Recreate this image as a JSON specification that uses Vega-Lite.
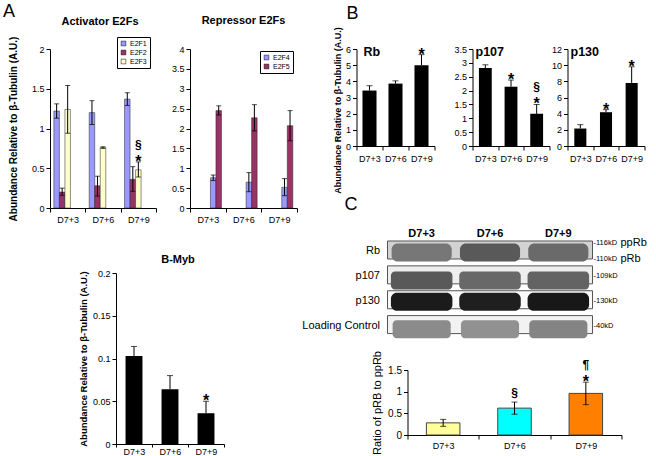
{
  "$schema": "https://vega.github.io/schema/vega-lite/v6.json",
  "padding": {"left": 3, "top": 3, "right": 0, "bottom": 0},
  "background": "white",
  "config": {
    "view": {"stroke": null},
    "font": "Liberation Sans",
    "axis": {"labelFont": "Liberation Sans", "labelFontSize": 9, "labelColor": "#000", "domainColor": "#000", "tickColor": "#000", "tickSize": 4, "grid": false, "titleFont": "Liberation Sans", "titleColor": "#000", "titleFontSize": 10, "titleFontWeight": "bold", "labelPadding": 2, "labelOverlap": false},
    "axisY": {"tickCount": 20},
    "title": {"font": "Liberation Sans", "fontSize": 11, "fontWeight": "bold", "color": "#000"},
    "text": {"font": "Liberation Sans", "color": "#000"}
  },
  "datasets": {
    "act": [
      {"day": "D7+3", "gene": "E2F1", "value": 1.22, "lo": 1.13, "hi": 1.31},
      {"day": "D7+3", "gene": "E2F2", "value": 0.2, "lo": 0.16, "hi": 0.25},
      {"day": "D7+3", "gene": "E2F3", "value": 1.24, "lo": 0.94, "hi": 1.54},
      {"day": "D7+6", "gene": "E2F1", "value": 1.2, "lo": 1.05, "hi": 1.35},
      {"day": "D7+6", "gene": "E2F2", "value": 0.28, "lo": 0.15, "hi": 0.4},
      {"day": "D7+6", "gene": "E2F3", "value": 0.76, "lo": 0.75, "hi": 0.77},
      {"day": "D7+9", "gene": "E2F1", "value": 1.37, "lo": 1.29, "hi": 1.45},
      {"day": "D7+9", "gene": "E2F2", "value": 0.36, "lo": 0.21, "hi": 0.52},
      {"day": "D7+9", "gene": "E2F3", "value": 0.48, "lo": 0.39, "hi": 0.58, "star": "*", "sym1": "§"}
    ],
    "rep": [
      {"day": "D7+3", "gene": "E2F4", "value": 0.76, "lo": 0.69, "hi": 0.83},
      {"day": "D7+3", "gene": "E2F5", "value": 2.45, "lo": 2.34, "hi": 2.57},
      {"day": "D7+6", "gene": "E2F4", "value": 0.65, "lo": 0.41, "hi": 0.89},
      {"day": "D7+6", "gene": "E2F5", "value": 2.27, "lo": 1.94, "hi": 2.6},
      {"day": "D7+9", "gene": "E2F4", "value": 0.52, "lo": 0.31, "hi": 0.74},
      {"day": "D7+9", "gene": "E2F5", "value": 2.07, "lo": 1.69, "hi": 2.45}
    ],
    "bmyb": [
      {"day": "D7+3", "value": 0.103, "hi": 0.114},
      {"day": "D7+6", "value": 0.064, "hi": 0.08},
      {"day": "D7+9", "value": 0.036, "hi": 0.05, "star": "*"}
    ],
    "rb": [
      {"day": "D7+3", "value": 3.43, "hi": 3.73},
      {"day": "D7+6", "value": 3.86, "hi": 4.03},
      {"day": "D7+9", "value": 5.0, "hi": 5.65, "star": "*"}
    ],
    "p107": [
      {"day": "D7+3", "value": 2.81, "hi": 2.93},
      {"day": "D7+6", "value": 2.14, "hi": 2.38, "star": "*"},
      {"day": "D7+9", "value": 1.16, "hi": 1.5, "star": "*", "sym1": "§"}
    ],
    "p130": [
      {"day": "D7+3", "value": 2.16, "hi": 2.64},
      {"day": "D7+6", "value": 4.18, "hi": 4.5, "star": "*"},
      {"day": "D7+9", "value": 7.8, "hi": 9.8, "star": "*"}
    ],
    "ratio": [
      {"day": "D7+3", "value": 0.28, "lo": 0.2, "hi": 0.36},
      {"day": "D7+6", "value": 0.62, "lo": 0.48, "hi": 0.76, "sym0": "§"},
      {"day": "D7+9", "value": 0.96, "lo": 0.7, "hi": 1.22, "star": "*", "sym1": "¶"}
    ],
    "blotBox": [
      {"protein": "Rb"}, {"protein": "p107"}, {"protein": "p130"}, {"protein": "Loading Control"}
    ],
    "blot": [
      {"protein": "Rb", "lane": "D7+3", "intensity": 0.5},
      {"protein": "Rb", "lane": "D7+6", "intensity": 0.62},
      {"protein": "Rb", "lane": "D7+9", "intensity": 0.55},
      {"protein": "p107", "lane": "D7+3", "intensity": 0.62},
      {"protein": "p107", "lane": "D7+6", "intensity": 0.56},
      {"protein": "p107", "lane": "D7+9", "intensity": 0.58},
      {"protein": "p130", "lane": "D7+3", "intensity": 0.9},
      {"protein": "p130", "lane": "D7+6", "intensity": 0.88},
      {"protein": "p130", "lane": "D7+9", "intensity": 0.92},
      {"protein": "Loading Control", "lane": "D7+3", "intensity": 0.42},
      {"protein": "Loading Control", "lane": "D7+6", "intensity": 0.4},
      {"protein": "Loading Control", "lane": "D7+9", "intensity": 0.45}
    ],
    "blotLab": [
      {"protein": "Rb", "sub": "a", "kd": "-116kD", "form": "ppRb"},
      {"protein": "Rb", "sub": "b", "kd": "-110kD", "form": "pRb"},
      {"protein": "p107", "sub": "m", "kd": "-109kD"},
      {"protein": "p130", "sub": "m", "kd": "-130kD"},
      {"protein": "Loading Control", "sub": "m", "kd": "-40kD"}
    ]
  },
  "spacing": 3.5,
  "resolve": {"scale": {"color": "independent"}},
  "hconcat": [
    {
      "title": {"text": "A", "anchor": "start", "frame": "group", "fontSize": 18, "fontWeight": "normal", "dx": -47, "offset": -6},
      "spacing": 29,
      "resolve": {"scale": {"color": "independent"}},
      "vconcat": [
        {
          "bounds": "flush",
          "spacing": 34,
          "resolve": {"scale": {"color": "independent"}},
          "hconcat": [
            {
              "width": 106, "height": 159,
              "title": {"text": "Activator E2Fs", "dx": -3, "offset": 9},
              "data": {"name": "act"},
              "layer": [
                {"mark": {"type": "bar", "stroke": "#222", "strokeWidth": 0.5},
                 "encoding": {
                   "x": {"field": "day", "type": "nominal", "scale": {"paddingInner": 0, "paddingOuter": 0}, "axis": {"title": null, "labelAngle": 0, "tickBand": "extent", "labelPadding": 3}},
                   "xOffset": {"field": "gene", "type": "nominal", "scale": {"paddingInner": 0, "paddingOuter": 0.7}},
                   "y": {"field": "value", "type": "quantitative", "scale": {"domain": [0, 2], "nice": false}, "axis": {"values": [0, 0.5, 1, 1.5, 2], "tickCount": 20, "format": ".1~f", "title": "Abundance Relative to β-Tubulin (A.U.)", "titlePadding": 13}},
                   "color": {"field": "gene", "type": "nominal", "scale": {"domain": ["E2F1", "E2F2", "E2F3"], "range": ["#9999ff", "#993366", "#ffffcc"]},
                     "legend": {"orient": "none", "legendX": 67, "legendY": -12, "title": null, "strokeColor": "#000", "fillColor": "#fff", "padding": 3, "symbolType": "square", "symbolSize": 22, "symbolStrokeColor": "#000", "symbolStrokeWidth": 0.5, "labelFontSize": 7, "labelFont": "Liberation Sans", "rowPadding": 1, "labelOffset": 3}}
                 }},
                {"mark": {"type": "rule", "color": "#000", "strokeWidth": 1},
                 "encoding": {"x": {"field": "day", "type": "nominal"}, "xOffset": {"field": "gene", "type": "nominal"}, "y": {"field": "lo", "type": "quantitative"}, "y2": {"field": "hi"}}},
                {"mark": {"type": "tick", "color": "#000", "size": 5, "thickness": 1},
                 "encoding": {"x": {"field": "day", "type": "nominal"}, "xOffset": {"field": "gene", "type": "nominal"}, "y": {"field": "lo", "type": "quantitative"}}},
                {"mark": {"type": "tick", "color": "#000", "size": 5, "thickness": 1},
                 "encoding": {"x": {"field": "day", "type": "nominal"}, "xOffset": {"field": "gene", "type": "nominal"}, "y": {"field": "hi", "type": "quantitative"}}},
                {"transform": [{"filter": "datum.star"}],
                 "mark": {"type": "text", "color": "#000", "fontSize": 16, "fontWeight": "bold", "dy": 5, "baseline": "alphabetic"},
                 "encoding": {"x": {"field": "day", "type": "nominal"}, "xOffset": {"field": "gene", "type": "nominal"}, "y": {"field": "hi", "type": "quantitative"}, "text": {"field": "star"}}},
                {"transform": [{"filter": "datum.sym1"}],
                 "mark": {"type": "text", "color": "#000", "fontSize": 12, "fontWeight": "bold", "dy": -13, "baseline": "alphabetic"},
                 "encoding": {"x": {"field": "day", "type": "nominal"}, "xOffset": {"field": "gene", "type": "nominal"}, "y": {"field": "hi", "type": "quantitative"}, "text": {"field": "sym1"}}}
              ]
            },
            {
              "width": 107, "height": 159,
              "title": {"text": "Repressor E2Fs", "offset": 19},
              "data": {"name": "rep"},
              "layer": [
                {"mark": {"type": "bar", "stroke": "#222", "strokeWidth": 0.5},
                 "encoding": {
                   "x": {"field": "day", "type": "nominal", "scale": {"paddingInner": 0, "paddingOuter": 0}, "axis": {"title": null, "labelAngle": 0, "tickBand": "extent", "labelPadding": 3}},
                   "xOffset": {"field": "gene", "type": "nominal", "scale": {"paddingInner": 0, "paddingOuter": 0.48}},
                   "y": {"field": "value", "type": "quantitative", "scale": {"domain": [0, 4], "nice": false}, "axis": {"values": [0, 0.5, 1, 1.5, 2, 2.5, 3, 3.5, 4], "tickCount": 20, "format": ".1~f", "title": null}},
                   "color": {"field": "gene", "type": "nominal", "scale": {"domain": ["E2F4", "E2F5"], "range": ["#9999ff", "#993366"]},
                     "legend": {"orient": "none", "legendX": 70, "legendY": 2, "title": null, "strokeColor": "#000", "fillColor": "#fff", "padding": 3, "symbolType": "square", "symbolSize": 22, "symbolStrokeColor": "#000", "symbolStrokeWidth": 0.5, "labelFontSize": 7, "labelFont": "Liberation Sans", "rowPadding": 1, "labelOffset": 3}}
                 }},
                {"mark": {"type": "rule", "color": "#000", "strokeWidth": 1},
                 "encoding": {"x": {"field": "day", "type": "nominal"}, "xOffset": {"field": "gene", "type": "nominal"}, "y": {"field": "lo", "type": "quantitative"}, "y2": {"field": "hi"}}},
                {"mark": {"type": "tick", "color": "#000", "size": 5, "thickness": 1},
                 "encoding": {"x": {"field": "day", "type": "nominal"}, "xOffset": {"field": "gene", "type": "nominal"}, "y": {"field": "lo", "type": "quantitative"}}},
                {"mark": {"type": "tick", "color": "#000", "size": 5, "thickness": 1},
                 "encoding": {"x": {"field": "day", "type": "nominal"}, "xOffset": {"field": "gene", "type": "nominal"}, "y": {"field": "hi", "type": "quantitative"}}}
              ]
            }
          ]
        },
        {
          "bounds": "flush",
          "spacing": 65,
          "resolve": {"scale": {"color": "independent"}},
          "hconcat": [
            {"width": 1, "height": 1, "data": {"values": [{"a": 1}]}, "mark": {"type": "point", "size": 0, "opacity": 0, "strokeWidth": 0}, "encoding": {}},
            {
              "width": 108, "height": 171,
              "title": {"text": "B-Myb", "offset": 4.5, "dx": 8},
              "data": {"name": "bmyb"},
              "layer": [
                {"mark": {"type": "bar", "color": "#000", "width": {"band": 0.47}},
                 "encoding": {
                   "x": {"field": "day", "type": "nominal", "scale": {"paddingInner": 0, "paddingOuter": 0}, "axis": {"title": null, "labelAngle": 0, "tickBand": "extent", "labelPadding": 0, "tickSize": 3}},
                   "y": {"field": "value", "type": "quantitative", "scale": {"domain": [0, 0.2], "nice": false}, "axis": {"values": [0, 0.05, 0.1, 0.15, 0.2], "tickCount": 20, "format": ".2~f", "title": "Abundance Relative to β-Tubulin (A.U.)", "titlePadding": 4, "titleFontSize": 9.5}}
                 }},
                {"mark": {"type": "rule", "color": "#000", "strokeWidth": 1},
                 "encoding": {"x": {"field": "day", "type": "nominal"}, "y": {"field": "value", "type": "quantitative"}, "y2": {"field": "hi"}}},
                {"mark": {"type": "tick", "color": "#000", "size": 6, "thickness": 1},
                 "encoding": {"x": {"field": "day", "type": "nominal"}, "y": {"field": "hi", "type": "quantitative"}}},
                {"transform": [{"filter": "datum.star"}],
                 "mark": {"type": "text", "color": "#000", "fontSize": 16, "fontWeight": "bold", "dy": 5, "baseline": "alphabetic"},
                 "encoding": {"x": {"field": "day", "type": "nominal"}, "y": {"field": "hi", "type": "quantitative"}, "text": {"field": "star"}}}
              ]
            }
          ]
        }
      ]
    },
    {
      "title": {"text": "B", "anchor": "start", "frame": "group", "fontSize": 18, "fontWeight": "normal", "dx": -10, "offset": 4},
      "spacing": 2,
      "resolve": {"scale": {"color": "independent"}},
      "vconcat": [
        {
          "bounds": "flush",
          "spacing": 18,
          "resolve": {"scale": {"color": "independent"}},
          "hconcat": [
            {
              "width": 78, "height": 97,
              "title": {"text": "Rb", "anchor": "start", "frame": "group", "dx": 7, "offset": -32, "fontSize": 12.5},
              "data": {"name": "rb"},
              "layer": [
                {"mark": {"type": "bar", "color": "#000", "width": {"band": 0.54}},
                 "encoding": {
                   "x": {"field": "day", "type": "nominal", "scale": {"paddingInner": 0, "paddingOuter": 0}, "axis": {"title": null, "labelAngle": 0, "tickBand": "extent", "labelPadding": 4}},
                   "y": {"field": "value", "type": "quantitative", "scale": {"domain": [0, 6], "nice": false}, "axis": {"values": [0, 1, 2, 3, 4, 5, 6], "tickCount": 20, "format": "d", "title": "Abundance Relative to β-Tubulin (A.U.)", "titlePadding": 3, "titleFontSize": 9, "titleY": 61}}
                 }},
                {"mark": {"type": "rule", "color": "#000", "strokeWidth": 1},
                 "encoding": {"x": {"field": "day", "type": "nominal"}, "y": {"field": "value", "type": "quantitative"}, "y2": {"field": "hi"}}},
                {"mark": {"type": "tick", "color": "#000", "size": 6, "thickness": 1},
                 "encoding": {"x": {"field": "day", "type": "nominal"}, "y": {"field": "hi", "type": "quantitative"}}},
                {"transform": [{"filter": "datum.star"}],
                 "mark": {"type": "text", "color": "#000", "fontSize": 16, "fontWeight": "bold", "dy": 5, "baseline": "alphabetic"},
                 "encoding": {"x": {"field": "day", "type": "nominal"}, "y": {"field": "hi", "type": "quantitative"}, "text": {"field": "star"}}}
              ]
            },
            {"width": 2, "height": 1, "data": {"values": [{"a": 1}]}, "mark": {"type": "point", "size": 0, "opacity": 0, "strokeWidth": 0}, "encoding": {}},
            {
              "width": 77, "height": 97,
              "title": {"text": "p107", "anchor": "start", "frame": "group", "dx": 3, "offset": -13.5, "fontSize": 12.5},
              "data": {"name": "p107"},
              "layer": [
                {"mark": {"type": "bar", "color": "#000", "width": {"band": 0.5}},
                 "encoding": {
                   "x": {"field": "day", "type": "nominal", "scale": {"paddingInner": 0, "paddingOuter": 0}, "axis": {"title": null, "labelAngle": 0, "tickBand": "extent", "labelPadding": 4}},
                   "y": {"field": "value", "type": "quantitative", "scale": {"domain": [0, 3.5], "nice": false}, "axis": {"values": [0, 0.5, 1, 1.5, 2, 2.5, 3, 3.5], "tickCount": 20, "format": ".1~f", "title": null}}
                 }},
                {"mark": {"type": "rule", "color": "#000", "strokeWidth": 1},
                 "encoding": {"x": {"field": "day", "type": "nominal"}, "y": {"field": "value", "type": "quantitative"}, "y2": {"field": "hi"}}},
                {"mark": {"type": "tick", "color": "#000", "size": 6, "thickness": 1},
                 "encoding": {"x": {"field": "day", "type": "nominal"}, "y": {"field": "hi", "type": "quantitative"}}},
                {"transform": [{"filter": "datum.star"}],
                 "mark": {"type": "text", "color": "#000", "fontSize": 16, "fontWeight": "bold", "dy": 5, "baseline": "alphabetic"},
                 "encoding": {"x": {"field": "day", "type": "nominal"}, "y": {"field": "hi", "type": "quantitative"}, "text": {"field": "star"}}},
                {"transform": [{"filter": "datum.sym1"}],
                 "mark": {"type": "text", "color": "#000", "fontSize": 12, "fontWeight": "bold", "dy": -13, "baseline": "alphabetic"},
                 "encoding": {"x": {"field": "day", "type": "nominal"}, "y": {"field": "hi", "type": "quantitative"}, "text": {"field": "sym1"}}}
              ]
            },
            {
              "width": 77, "height": 97,
              "title": {"text": "p130", "anchor": "start", "frame": "group", "dx": 3, "offset": -13.5, "fontSize": 12.5},
              "data": {"name": "p130"},
              "layer": [
                {"mark": {"type": "bar", "color": "#000", "width": {"band": 0.47}},
                 "encoding": {
                   "x": {"field": "day", "type": "nominal", "scale": {"paddingInner": 0, "paddingOuter": 0}, "axis": {"title": null, "labelAngle": 0, "tickBand": "extent", "labelPadding": 4}},
                   "y": {"field": "value", "type": "quantitative", "scale": {"domain": [0, 12], "nice": false}, "axis": {"values": [0, 2, 4, 6, 8, 10, 12], "tickCount": 20, "format": "d", "title": null}}
                 }},
                {"mark": {"type": "rule", "color": "#000", "strokeWidth": 1},
                 "encoding": {"x": {"field": "day", "type": "nominal"}, "y": {"field": "value", "type": "quantitative"}, "y2": {"field": "hi"}}},
                {"mark": {"type": "tick", "color": "#000", "size": 6, "thickness": 1},
                 "encoding": {"x": {"field": "day", "type": "nominal"}, "y": {"field": "hi", "type": "quantitative"}}},
                {"transform": [{"filter": "datum.star"}],
                 "mark": {"type": "text", "color": "#000", "fontSize": 16, "fontWeight": "bold", "dy": 5, "baseline": "alphabetic"},
                 "encoding": {"x": {"field": "day", "type": "nominal"}, "y": {"field": "hi", "type": "quantitative"}, "text": {"field": "star"}}}
              ]
            }
          ]
        },
        {
          "title": {"text": "C", "anchor": "start", "frame": "group", "fontSize": 18, "fontWeight": "normal", "dx": -12, "offset": 13},
          "spacing": 11,
          "resolve": {"scale": {"color": "independent"}},
          "vconcat": [
            {
              "bounds": "flush",
              "spacing": 30,
              "resolve": {"scale": {"color": "independent"}},
              "hconcat": [
                {"width": 1, "height": 1, "data": {"values": [{"a": 1}]}, "mark": {"type": "point", "size": 0, "opacity": 0, "strokeWidth": 0}, "encoding": {}},
                {
                  "width": 205, "height": 95,
                  "layer": [
                    {"data": {"name": "blotBox"},
                     "mark": {"type": "rect", "stroke": "#555", "strokeWidth": 1},
                     "encoding": {
                       "y": {"field": "protein", "type": "nominal", "sort": ["Rb", "p107", "p130", "Loading Control"], "scale": {"paddingInner": 0.18, "paddingOuter": 0}, "axis": {"title": null, "ticks": false, "domain": false, "labelPadding": 8, "labelFontSize": 11, "labelFontWeight": "normal"}},
                       "fill": {"field": "protein", "type": "nominal", "scale": {"domain": ["Rb", "p107", "p130", "Loading Control"], "range": ["#d2d2d2", "#eeeeee", "#fafafa", "#f2f2f2"]}, "legend": null}
                     }},
                    {"data": {"name": "blot"},
                     "transform": [{"filter": "datum.protein == 'Rb'"}],
                     "mark": {"type": "bar", "width": {"band": 0.88}, "height": {"band": 0.75}, "cornerRadius": 6},
                     "encoding": {
                       "x": {"field": "lane", "type": "nominal", "scale": {"paddingInner": 0, "paddingOuter": 0}, "axis": {"orient": "top", "title": null, "ticks": false, "domain": false, "labelAngle": 0, "labelFontWeight": "bold", "labelFontSize": 11, "labelPadding": 3}},
                       "y": {"field": "protein", "type": "nominal", "sort": ["Rb", "p107", "p130", "Loading Control"]},
                       "color": {"field": "intensity", "type": "quantitative", "scale": {"domain": [0, 1], "range": ["#ffffff", "#000000"]}, "legend": null}
                     }},
                    {"data": {"name": "blot"},
                     "transform": [{"filter": "datum.protein == 'p107'"}],
                     "mark": {"type": "bar", "width": {"band": 0.9}, "height": {"band": 0.45}, "cornerRadius": 4},
                     "encoding": {
                       "x": {"field": "lane", "type": "nominal"},
                       "y": {"field": "protein", "type": "nominal", "sort": ["Rb", "p107", "p130", "Loading Control"]},
                       "color": {"field": "intensity", "type": "quantitative"}
                     }},
                    {"data": {"name": "blot"},
                     "transform": [{"filter": "datum.protein == 'p130'"}],
                     "mark": {"type": "bar", "width": {"band": 0.9}, "height": {"band": 0.8}, "cornerRadius": 6},
                     "encoding": {
                       "x": {"field": "lane", "type": "nominal"},
                       "y": {"field": "protein", "type": "nominal", "sort": ["Rb", "p107", "p130", "Loading Control"]},
                       "color": {"field": "intensity", "type": "quantitative"}
                     }},
                    {"data": {"name": "blot"},
                     "transform": [{"filter": "datum.protein == 'Loading Control'"}],
                     "mark": {"type": "bar", "width": {"band": 0.85}, "height": {"band": 0.55}, "cornerRadius": 4},
                     "encoding": {
                       "x": {"field": "lane", "type": "nominal"},
                       "y": {"field": "protein", "type": "nominal", "sort": ["Rb", "p107", "p130", "Loading Control"]},
                       "color": {"field": "intensity", "type": "quantitative"}
                     }},
                    {"data": {"name": "blotLab"},
                     "mark": {"type": "text", "color": "#000", "align": "left", "baseline": "middle", "dx": 1, "fontSize": 7.5},
                     "encoding": {
                       "x": {"datum": "D7+9", "type": "nominal", "bandPosition": 1},
                       "y": {"field": "protein", "type": "nominal", "sort": ["Rb", "p107", "p130", "Loading Control"]},
                       "yOffset": {"field": "sub", "type": "nominal", "scale": {"domain": ["a", "m", "b"], "paddingInner": 0, "paddingOuter": 0.3}},
                       "text": {"field": "kd"}
                     }},
                    {"data": {"name": "blotLab"},
                     "transform": [{"filter": "datum.form"}],
                     "mark": {"type": "text", "color": "#000", "align": "left", "baseline": "middle", "dx": 28, "fontSize": 11},
                     "encoding": {
                       "x": {"datum": "D7+9", "type": "nominal", "bandPosition": 1},
                       "y": {"field": "protein", "type": "nominal", "sort": ["Rb", "p107", "p130", "Loading Control"]},
                       "yOffset": {"field": "sub", "type": "nominal"},
                       "text": {"field": "form"}
                     }}
                  ]
                }
              ]
            },
            {
              "bounds": "flush",
              "spacing": 50,
              "resolve": {"scale": {"color": "independent"}},
              "hconcat": [
                {"width": 1, "height": 1, "data": {"values": [{"a": 1}]}, "mark": {"type": "point", "size": 0, "opacity": 0, "strokeWidth": 0}, "encoding": {}},
                {
                  "width": 214, "height": 65,
                  "data": {"name": "ratio"},
                  "layer": [
                    {"mark": {"type": "bar", "stroke": "#444", "strokeWidth": 1, "width": {"band": 0.47}},
                     "encoding": {
                       "x": {"field": "day", "type": "nominal", "scale": {"paddingInner": 0, "paddingOuter": 0}, "axis": {"title": null, "labelAngle": 0, "tickBand": "extent", "labelPadding": 2}},
                       "y": {"field": "value", "type": "quantitative", "scale": {"domain": [0, 1.5], "nice": false}, "axis": {"values": [0, 0.5, 1, 1.5], "tickCount": 20, "format": ".1~f", "labelFontSize": 10, "title": "Ratio of pRB to ppRb", "titleFontWeight": "normal", "titleFontSize": 11, "titlePadding": 5}},
                       "color": {"field": "day", "type": "nominal", "scale": {"range": ["#ffff99", "#00ffff", "#ff7f00"]}, "legend": null}
                     }},
                    {"mark": {"type": "rule", "color": "#000", "strokeWidth": 1},
                     "encoding": {"x": {"field": "day", "type": "nominal"}, "y": {"field": "lo", "type": "quantitative"}, "y2": {"field": "hi"}}},
                    {"mark": {"type": "tick", "color": "#000", "size": 6, "thickness": 1},
                     "encoding": {"x": {"field": "day", "type": "nominal"}, "y": {"field": "lo", "type": "quantitative"}}},
                    {"mark": {"type": "tick", "color": "#000", "size": 6, "thickness": 1},
                     "encoding": {"x": {"field": "day", "type": "nominal"}, "y": {"field": "hi", "type": "quantitative"}}},
                    {"transform": [{"filter": "datum.star"}],
                     "mark": {"type": "text", "color": "#000", "fontSize": 16, "fontWeight": "bold", "dy": 5, "baseline": "alphabetic"},
                     "encoding": {"x": {"field": "day", "type": "nominal"}, "y": {"field": "hi", "type": "quantitative"}, "text": {"field": "star"}}},
                    {"transform": [{"filter": "datum.sym1"}],
                     "mark": {"type": "text", "color": "#000", "fontSize": 12, "fontWeight": "bold", "dy": -13, "baseline": "alphabetic"},
                     "encoding": {"x": {"field": "day", "type": "nominal"}, "y": {"field": "hi", "type": "quantitative"}, "text": {"field": "sym1"}}},
                    {"transform": [{"filter": "datum.sym0"}],
                     "mark": {"type": "text", "color": "#000", "fontSize": 12, "fontWeight": "bold", "dy": -5, "baseline": "alphabetic"},
                     "encoding": {"x": {"field": "day", "type": "nominal"}, "y": {"field": "hi", "type": "quantitative"}, "text": {"field": "sym0"}}}
                  ]
                }
              ]
            }
          ]
        }
      ]
    }
  ]
}
